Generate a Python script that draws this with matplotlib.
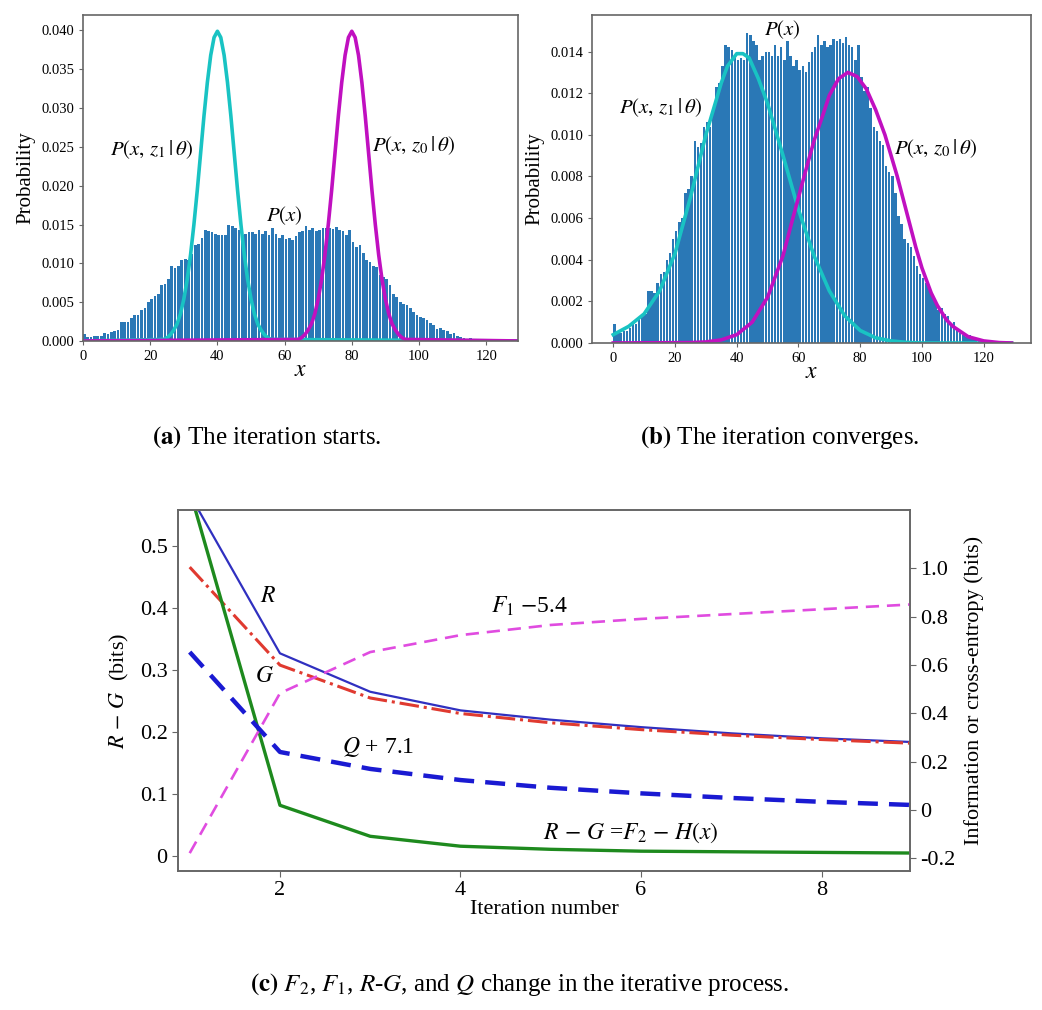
import matplotlib
matplotlib.use("Agg")
import matplotlib.pyplot as plt

plt.rcParams['font.family'] = ['Liberation Serif', 'DejaVu Serif']
plt.rcParams['mathtext.fontset'] = 'stix'

# P(x): histogram, one value per unit bin starting at x = 0
px_bins = list(range(0, 126))
px_values = [
    0.0009, 0.0005, 0.0005, 0.0006, 0.0006, 0.0007, 0.0010, 0.0009, 0.0012, 0.0013,
    0.0014, 0.0025, 0.0025, 0.0024, 0.0029, 0.0033, 0.0034, 0.0040, 0.0043, 0.0050,
    0.0054, 0.0058, 0.0060, 0.0072, 0.0074, 0.0080, 0.0097, 0.0094, 0.0096, 0.0104,
    0.0106, 0.0104, 0.0112, 0.0123, 0.0125, 0.0133, 0.0143, 0.0142, 0.0141, 0.0138,
    0.0136, 0.0137, 0.0136, 0.0149, 0.0148, 0.0145, 0.0143, 0.0136, 0.0138, 0.0140,
    0.0140, 0.0138, 0.0143, 0.0138, 0.0142, 0.0136, 0.0145, 0.0138, 0.0133, 0.0136,
    0.0131, 0.0133, 0.0130, 0.0135, 0.0140, 0.0142, 0.0148, 0.0143, 0.0145, 0.0142,
    0.0143, 0.0146, 0.0145, 0.0146, 0.0144, 0.0147, 0.0143, 0.0142, 0.0136, 0.0143,
    0.0128, 0.0121, 0.0123, 0.0113, 0.0104, 0.0102, 0.0097, 0.0095, 0.0085, 0.0082,
    0.0080, 0.0072, 0.0061, 0.0057, 0.0050, 0.0048, 0.0046, 0.0042, 0.0037, 0.0033,
    0.0031, 0.0029, 0.0027, 0.0023, 0.0020, 0.0016, 0.0017, 0.0014, 0.0013, 0.0009,
    0.0010, 0.0007, 0.0005, 0.0004, 0.0003, 0.0004, 0.0002, 0.0002, 0.0001, 0.0001,
    0.0001, 0.00005, 0.00005, 0.00003, 0.00002, 0.00002,
]

# (a) starting components
a_z1_x = [0] + list(range(24, 57)) + [130]
a_z1_y = [0, 0.0002, 0.0004, 0.0008, 0.0014, 0.0022, 0.0035, 0.0054, 0.0079, 0.0111,
          0.0150, 0.0194, 0.0242, 0.0290, 0.0333, 0.0368, 0.0391, 0.0399, 0.0391, 0.0368,
          0.0333, 0.0290, 0.0242, 0.0194, 0.0150, 0.0111, 0.0079, 0.0054, 0.0035, 0.0022,
          0.0014, 0.0008, 0.0004, 0.0002, 0]
a_z0_x = [0] + list(range(64, 97)) + [130]
a_z0_y = [0, 0.0002, 0.0004, 0.0008, 0.0014, 0.0022, 0.0035, 0.0054, 0.0079, 0.0111,
          0.0150, 0.0194, 0.0242, 0.0290, 0.0333, 0.0368, 0.0391, 0.0399, 0.0391, 0.0368,
          0.0333, 0.0290, 0.0242, 0.0194, 0.0150, 0.0111, 0.0079, 0.0054, 0.0035, 0.0022,
          0.0014, 0.0008, 0.0004, 0.0002, 0]

# (b) converged components
b_z1_x = [0, 5, 10, 15, 20, 25, 30, 35, 37, 40, 42, 44, 47, 50, 55, 60, 65, 70, 75, 80, 85,
          90, 95, 100, 129]
b_z1_y = [0.0004, 0.0008, 0.0014, 0.0025, 0.0043, 0.0070, 0.0100, 0.0125, 0.0133, 0.0139,
          0.0139, 0.0137, 0.0127, 0.0115, 0.0090, 0.0064, 0.0042, 0.0025, 0.0013, 0.0006,
          0.00025, 0.0001, 0.00003, 0, 0]
b_z0_x = [0, 25, 30, 35, 40, 45, 50, 55, 58, 60, 62, 65, 68, 70, 73, 76, 79, 82, 85, 88, 90,
          92, 95, 98, 100, 103, 105, 108, 110, 115, 120, 125, 129]
b_z0_y = [0, 0.00002, 0.00005, 0.00015, 0.0004, 0.0010, 0.0022, 0.0042, 0.0059, 0.0070,
          0.0081, 0.0097, 0.0110, 0.0119, 0.0127, 0.0130, 0.0128, 0.0122, 0.0112, 0.0100,
          0.0090, 0.0080, 0.0063, 0.0046, 0.0036, 0.0024, 0.0018, 0.0011, 0.0008, 0.0003,
          0.0001, 0.00002, 0]

# (c) iterative process
iters = [1, 2, 3, 4, 5, 6, 7, 8, 9]
R_vals = [0.583, 0.327, 0.265, 0.235, 0.220, 0.208, 0.198, 0.190, 0.184]
G_vals = [0.466, 0.308, 0.255, 0.230, 0.215, 0.204, 0.195, 0.188, 0.182]
RG_vals = [0.59, 0.082, 0.032, 0.016, 0.011, 0.008, 0.007, 0.006, 0.005]
F1_vals = [-0.178, 0.483, 0.653, 0.723, 0.765, 0.79, 0.81, 0.83, 0.85]
Q_vals = [0.653, 0.24, 0.17, 0.124, 0.092, 0.069, 0.05, 0.034, 0.021]

left_ticks = [0, 0.1, 0.2, 0.3, 0.4, 0.5]
left_labels = ['0', '0.1', '0.2', '0.3', '0.4', '0.5']
right_ticks = [-0.2, 0, 0.2, 0.4, 0.6, 0.8, 1.0]
right_labels = ['-0.2', '0', '0.2', '0.4', '0.6', '0.8', '1.0']

bar_col = '#2a78b6'
cyan = '#19c3c3'
mag = '#c010c0'
spine_col = '#666666'

fig = plt.figure(figsize=(10.42, 10.10), dpi=100)

def style_box(ax):
    for s in ax.spines.values():
        s.set_color(spine_col)
        s.set_linewidth(1.2)

# ---- panel (a)
axa = fig.add_axes([0.0797, 0.6624, 0.4175, 0.3228])
axa.bar(px_bins, px_values, width=0.8, align='edge', color=bar_col)
axa.plot(a_z1_x, a_z1_y, color=cyan, lw=2.6)
axa.plot(a_z0_x, a_z0_y, color=mag, lw=2.6)
axa.set_xlim(0, 129.5)
axa.set_ylim(0, 0.042)
axa.set_xticks([0, 20, 40, 60, 80, 100, 120])
axa.set_yticks([0, 0.005, 0.01, 0.015, 0.02, 0.025, 0.03, 0.035, 0.04])
axa.tick_params(labelsize=10.5, length=3, color=spine_col)
axa.set_ylabel('Probability', fontsize=15, labelpad=4)
axa.set_xlabel(r'$x$', fontsize=17, labelpad=-2)
axa.text(20.5, 0.0246, r'$P(x,\,z_1\,|\,\theta)$', fontsize=15, ha='center', va='center')
axa.text(98.5, 0.0252, r'$P(x,\,z_0\,|\,\theta)$', fontsize=15, ha='center', va='center')
axa.text(60, 0.0162, r'$P(x)$', fontsize=15, ha='center', va='center')
style_box(axa)

# ---- panel (b)
axb = fig.add_axes([0.5681, 0.6604, 0.4213, 0.3248])
axb.bar(px_bins, px_values, width=0.8, align='edge', color=bar_col)
axb.plot(b_z1_x, b_z1_y, color=cyan, lw=2.6)
axb.plot(b_z0_x, b_z0_y, color=mag, lw=2.6)
axb.set_xlim(-6.9, 135.3)
axb.set_ylim(0, 0.01576)
axb.set_xticks([0, 20, 40, 60, 80, 100, 120])
axb.set_yticks([0, 0.002, 0.004, 0.006, 0.008, 0.01, 0.012, 0.014])
axb.tick_params(labelsize=10.5, length=3, color=spine_col)
axb.set_ylabel('Probability', fontsize=15, labelpad=4)
axb.set_xlabel(r'$x$', fontsize=17, labelpad=-2)
axb.text(15.3, 0.01133, r'$P(x,\,z_1\,|\,\theta)$', fontsize=15, ha='center', va='center')
axb.text(104.5, 0.00936, r'$P(x,\,z_0\,|\,\theta)$', fontsize=15, ha='center', va='center')
axb.text(54.9, 0.01503, r'$P(x)$', fontsize=15, ha='center', va='center')
style_box(axb)

# ---- panel (c)
axc = fig.add_axes([0.1708, 0.1376, 0.7025, 0.3574])
axc.plot(iters, R_vals, color='#3030c0', lw=1.6)
axc.plot(iters, G_vals, color='#e03a30', lw=2.2, ls='-.')
axc.plot(iters, RG_vals, color='#1e8a1e', lw=2.4)
axc.set_xlim(0.87, 8.98)
axc.set_ylim(-0.024, 0.558)
axc.set_xticks([2, 4, 6, 8])
axc.set_yticks(left_ticks)
axc.set_yticklabels(left_labels)
axc.tick_params(labelsize=16, length=4, color=spine_col)
axc.set_xlabel('Iteration number', fontsize=16, labelpad=0)
axc.set_ylabel(r'$R\,-\,G$  (bits)', fontsize=16, labelpad=6)

axr = axc.twinx()
axr.plot(iters, Q_vals, color='#1a1ad2', lw=3.2, ls=(0, (4.5, 2.5)))
axr.plot(iters, F1_vals, color='#e04ce0', lw=1.9, ls=(0, (5, 3)))
axr.set_ylim(-0.252, 1.24)
axr.set_yticks(right_ticks)
axr.set_yticklabels(right_labels)
axr.tick_params(labelsize=16, length=4, color=spine_col)
axr.set_ylabel('Information or cross-entropy (bits)', fontsize=16, labelpad=6)
style_box(axc)
style_box(axr)

axc.text(1.87, 0.418, r'$R$', fontsize=17, ha='center', va='center')
axc.text(1.83, 0.290, r'$G$', fontsize=17, ha='center', va='center')
axc.text(4.77, 0.402, r'$F_1$ $-$5.4', fontsize=17, ha='center', va='center')
axc.text(3.09, 0.176, r'$Q$ + 7.1', fontsize=17, ha='center', va='center')
axc.text(5.89, 0.037, r'$R\,-\,G$ =$F_2$ $-$ $H(x)$', fontsize=17, ha='center', va='center')

# captions
fig.text(0.256, 0.567, r'$\mathbf{(a)}$ The iteration starts.', fontsize=18, ha='center', va='center')
fig.text(0.748, 0.567, r'$\mathbf{(b)}$ The iteration converges.', fontsize=18, ha='center', va='center')
fig.text(0.499, 0.025, r'$\mathbf{(c)}$ $F_2$, $F_1$, $R$-$G$, and $Q$ change in the iterative process.',
         fontsize=18, ha='center', va='center')

fig.savefig('out.png', dpi=100)
